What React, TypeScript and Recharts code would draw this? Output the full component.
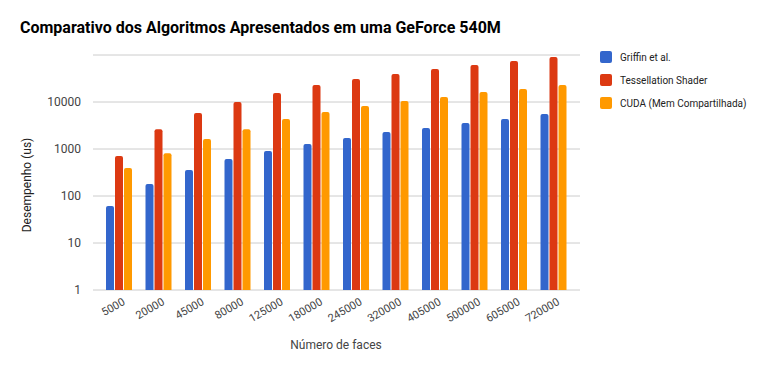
import { BarChart, Bar, XAxis, YAxis, CartesianGrid } from "recharts";

const faces = ["5000", "20000", "45000", "80000", "125000", "180000", "245000", "320000", "405000", "500000", "605000", "720000"];
const griffin = [61, 180, 357, 610, 905, 1275, 1710, 2300, 2800, 3570, 4350, 5560];
const tessellation = [710, 2620, 5830, 10000, 15500, 23000, 30800, 39400, 50400, 61300, 74500, 90600];
const cuda = [394, 810, 1630, 2620, 4350, 6120, 8220, 10500, 12770, 16330, 18900, 23000];
const yTicks = [1, 10, 100, 1000, 10000];

const seriesList = [
  { key: "griffin", name: "Griffin et al.", color: "#3366cc" },
  { key: "tessellation", name: "Tessellation Shader", color: "#dc3912" },
  { key: "cuda", name: "CUDA (Mem Compartilhada)", color: "#ff9900" },
];

const data = faces.map((f, i) => ({
  faces: f,
  griffin: griffin[i],
  tessellation: tessellation[i],
  cuda: cuda[i],
}));

const FONT = "Roboto, Arial, sans-serif";

// rotated category labels, like the original
const XTick = (props: any) => {
  const { x, y, payload } = props;
  return (
    <g transform={`translate(${x + 7},${y + 6})`}>
      <text
        x={0}
        y={0}
        textAnchor="end"
        transform="rotate(-30)"
        fill="#444"
        fontSize={11}
        fontFamily={FONT}
      >
        {payload.value}
      </text>
    </g>
  );
};

const App = () => {
  return (
    <div style={{ position: "absolute", left: 0, top: 0, width: 764, height: 371, background: "#fff", fontFamily: FONT }}>
      <div style={{ position: "absolute", left: 20, top: 18, fontSize: 16, fontWeight: 700, color: "#000", whiteSpace: "nowrap" }}>
        Comparativo dos Algoritmos Apresentados em uma GeForce 540M
      </div>

      <BarChart
        width={764}
        height={371}
        data={data}
        margin={{ top: 55, right: 184, bottom: 0, left: 0 }}
        barSize={8}
        barGap={1}
      >
        <CartesianGrid vertical={false} stroke="#cccccc" />
        <XAxis
          dataKey="faces"
          axisLine={false}
          tickLine={false}
          tick={<XTick />}
          interval={0}
          padding={{ left: 6, right: 7 }}
          height={81}
        />
        <YAxis
          scale="log"
          domain={[1, 100000]}
          ticks={yTicks}
          allowDataOverflow
          axisLine={false}
          tickLine={false}
          width={93}
          tickMargin={6}
          tick={{ fill: "#444", fontSize: 12, fontFamily: FONT }}
        />
        {seriesList.map((s) => (
          <Bar
            key={s.key}
            dataKey={s.key}
            name={s.name}
            fill={s.color}
            radius={[2, 2, 0, 0]}
            isAnimationActive={false}
          />
        ))}
      </BarChart>

      <div style={{ position: "absolute", left: 236, top: 338, width: 200, textAlign: "center", fontSize: 12, color: "#444" }}>
        Número de faces
      </div>
      <div
        style={{
          position: "absolute",
          left: 27,
          top: 185,
          transform: "translate(-50%, -50%) rotate(-90deg)",
          fontSize: 12,
          color: "#222",
          whiteSpace: "nowrap",
        }}
      >
        Desempenho (us)
      </div>

      <div style={{ position: "absolute", left: 600, top: 51 }}>
        {seriesList.map((s) => (
          <div key={s.key} style={{ display: "flex", alignItems: "center", height: 12, marginBottom: 11 }}>
            <div style={{ width: 12, height: 12, borderRadius: 2, background: s.color }} />
            <span style={{ marginLeft: 8, fontSize: 10, color: "#222", whiteSpace: "nowrap" }}>{s.name}</span>
          </div>
        ))}
      </div>
    </div>
  );
};

export default App;
